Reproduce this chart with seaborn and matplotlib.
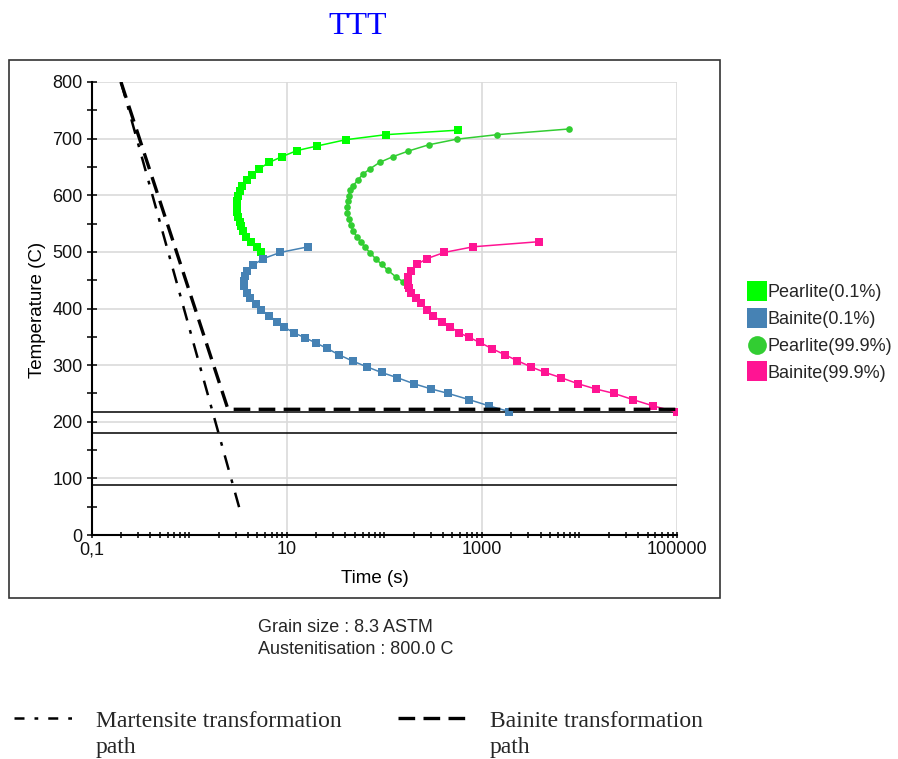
import numpy as np
import pandas as pd
import seaborn as sns
import matplotlib
matplotlib.use("Agg")
import matplotlib.pyplot as plt
from matplotlib.lines import Line2D
from matplotlib.patches import Rectangle
from matplotlib.ticker import FixedLocator, LogLocator, MultipleLocator, NullFormatter

# ---------------- data ----------------
pearlite01_time = [5.5, 4.9, 4.3, 3.8, 3.53, 3.42, 3.31, 3.18, 3.09, 3.07, 3.09, 3.18, 3.31,
                   3.5, 3.94, 4.43, 5.23, 6.62, 8.87, 12.8, 20.5, 40.1, 104, 576]
pearlite01_temp = [500, 508, 518, 527, 536, 545, 553, 562, 571, 580, 589, 598, 607,
                   617, 627, 636, 647, 658, 668, 679, 687, 698, 707, 715]

bainite01_time = [16.6, 8.57, 5.74, 4.54, 3.94, 3.73, 3.67, 3.67, 3.88, 4.2, 4.83, 5.48, 6.57,
                  8.0, 9.42, 11.9, 15.5, 20, 25.6, 34.5, 47.7, 66.3, 93.7, 135, 202, 302,
                  452, 742, 1188, 1905]
bainite01_temp = [509, 499, 488, 477, 467, 458, 449, 440, 428, 419, 408, 398, 387,
                  377, 367, 357, 348, 339, 330, 318, 307, 297, 287, 278, 267, 258,
                  250, 239, 228, 218]

pearlite999_time = [157, 131, 108, 93.8, 81.4, 71.8, 62.8, 57.5, 52, 48, 45.2, 43, 41.7, 41.4,
                    42, 43, 44.8, 48, 53.7, 60, 71.8, 89.5, 122, 176, 284, 551, 1436, 7780]
pearlite999_temp = [447, 456, 468, 478, 488, 498, 509, 518, 527, 537, 547, 558, 568, 579,
                    589, 599, 609, 617, 627, 637, 647, 658, 668, 678, 689, 699, 707, 717]

bainite999_time = [3864, 815, 411, 273, 216, 189, 176, 174, 174, 176, 180, 186, 211, 236, 275,
                   317, 386, 470, 585, 741, 953, 1274, 1733, 2300, 3177, 4454, 6442, 9700,
                   14620, 22650, 35480, 56890, 100000]
bainite999_temp = [518, 509, 499, 488, 478, 467, 456, 451, 446, 441, 436, 428, 419, 409, 398,
                   387, 377, 368, 357, 349, 340, 329, 318, 308, 297, 287, 278, 267,
                   258, 250, 239, 228, 217]

martensite_path_time = [0.2, 3.3]
martensite_path_temp = [800, 45]
bainite_path_time = [0.2, 2.5, 100000]
bainite_path_temp = [800, 222, 222]
ref_line_temps = [218, 180, 89]
ref_line_time = [0.1, 100000]

series_names = ["Pearlite(0.1%)", "Bainite(0.1%)", "Pearlite(99.9%)", "Bainite(99.9%)"]
series_colors = ["#00FF00", "#4682B4", "#32CD32", "#FF1493"]

x_tick_values = [0.1, 10, 1000, 100000]
x_tick_labels = ["0,1", "10", "1000", "100000"]

# ---------------- figure ----------------
sns.set_theme(style="white")
plt.rcParams["font.family"] = ["Liberation Sans", "DejaVu Sans"]

W, H = 898, 759
fig = plt.figure(figsize=(W / 100, H / 100), dpi=100)
ax = fig.add_axes([91.6 / W, 1 - 535 / H, (677 - 91.6) / W, (535 - 82) / H])

frames = []
for name, t, T in [(series_names[0], pearlite01_time, pearlite01_temp),
                   (series_names[1], bainite01_time, bainite01_temp),
                   (series_names[2], pearlite999_time, pearlite999_temp),
                   (series_names[3], bainite999_time, bainite999_temp)]:
    frames.append(pd.DataFrame({"time": t, "temp": T, "series": name}))

markers = ["s", "s", "o", "s"]
msizes = [5.6, 5.4, 4.8, 5.4]
for df, c, m, ms in zip(frames, series_colors, markers, msizes):
    sns.lineplot(data=df, x="time", y="temp", sort=False, estimator=None, errorbar=None,
                 color=c, marker=m, markersize=ms, markeredgewidth=0, linewidth=1.1,
                 ax=ax, zorder=4)

# reference horizontal lines
for T in ref_line_temps:
    sns.lineplot(x=ref_line_time, y=[T, T], estimator=None, errorbar=None, color="black",
                 linewidth=1.1, ax=ax, zorder=3)

# transformation paths
sns.lineplot(x=martensite_path_time, y=martensite_path_temp, sort=False, estimator=None,
             errorbar=None, color="black", linewidth=1.8, ax=ax, zorder=5)
ax.lines[-1].set_dashes([6, 4, 1.5, 4])
sns.lineplot(x=bainite_path_time, y=bainite_path_temp, sort=False, estimator=None,
             errorbar=None, color="black", linewidth=2.4, ax=ax, zorder=5)
ax.lines[-1].set_dashes([5, 2.5])

ax.set_xscale("log")
ax.set_xlim(0.1, 100000)
ax.set_ylim(0, 800)

ax.xaxis.set_major_locator(FixedLocator(x_tick_values))
ax.set_xticklabels(x_tick_labels)
ax.xaxis.set_minor_locator(LogLocator(base=10, subs=np.arange(1, 10), numticks=100))
ax.xaxis.set_minor_formatter(NullFormatter())
ax.yaxis.set_major_locator(MultipleLocator(100))
ax.yaxis.set_minor_locator(MultipleLocator(50))

ax.grid(True, which="major", color="#DADADA", linewidth=1.2)
ax.set_axisbelow(True)
for s in ["top", "right"]:
    ax.spines[s].set_visible(False)
for s in ["left", "bottom"]:
    ax.spines[s].set_color("black")
    ax.spines[s].set_linewidth(1.5)

ax.tick_params(axis="x", which="both", direction="inout", length=5, width=1.1,
               colors="black", labelsize=13, pad=2, bottom=True)
ax.tick_params(axis="y", which="both", direction="inout", length=7, width=1.1,
               colors="black", labelsize=13, pad=3, left=True)
for lab in ax.get_xticklabels() + ax.get_yticklabels():
    lab.set_color("#111111")

ax.set_xlabel("Time (s)", fontsize=13.5, color="black")
ax.set_ylabel("Temperature (C)", fontsize=13.5, color="black")
ax.xaxis.set_label_coords((374.5 - 91.6) / (677 - 91.6), -(570 - 535) / (535 - 82))
ax.yaxis.set_label_coords(-(91.6 - 46) / (677 - 91.6), (535 - 310) / (535 - 82))

# outer frame
fig.add_artist(Rectangle((9 / W, 1 - 598 / H), 711 / W, 538 / H, transform=fig.transFigure,
                         fill=False, edgecolor="#333333", linewidth=1.2))

# title
fig.text(358 / W, 1 - 26 / H, "TTT", ha="center", va="center", color="#0000FF",
         fontsize=23, family=["Liberation Serif", "DejaVu Serif"])

# right legend
handles = []
for c, m in zip(series_colors, markers):
    handles.append(Line2D([], [], linestyle="none", marker=m, color=c,
                          markersize=14.5 if m == "s" else 13.5, markeredgewidth=0))
fig.legend(handles, series_names, loc="upper left", bbox_to_anchor=(748 / W, 1 - 284 / H),
           frameon=False, fontsize=13, handlelength=1.0, handletextpad=0.1,
           labelspacing=0.55, borderpad=0, borderaxespad=0)

# info text
fig.text(258 / W, 1 - 628 / H, "Grain size : 8.3 ASTM", fontsize=13, va="center",
         ha="left")
fig.text(258 / W, 1 - 650 / H, "Austenitisation : 800.0 C", fontsize=13, va="center",
         ha="left")

# bottom legend
l1 = Line2D([14 / W, 80 / W], [1 - 718 / H] * 2, transform=fig.transFigure, color="black",
            linewidth=1.8)
l1.set_dashes([4, 4, 1.5, 4])
fig.add_artist(l1)
l2 = Line2D([398 / W, 470 / W], [1 - 718 / H] * 2, transform=fig.transFigure, color="black",
            linewidth=2.4)
l2.set_dashes([5, 2.5])
fig.add_artist(l2)
fig.text(96 / W, 1 - 711 / H, "Martensite transformation\npath", fontsize=17, va="top",
         ha="left", linespacing=1.32, family=["Liberation Serif", "DejaVu Serif"])
fig.text(490 / W, 1 - 711 / H, "Bainite transformation\npath", fontsize=17, va="top",
         ha="left", linespacing=1.32, family=["Liberation Serif", "DejaVu Serif"])

fig.savefig("out.png", dpi=100, facecolor="white")
